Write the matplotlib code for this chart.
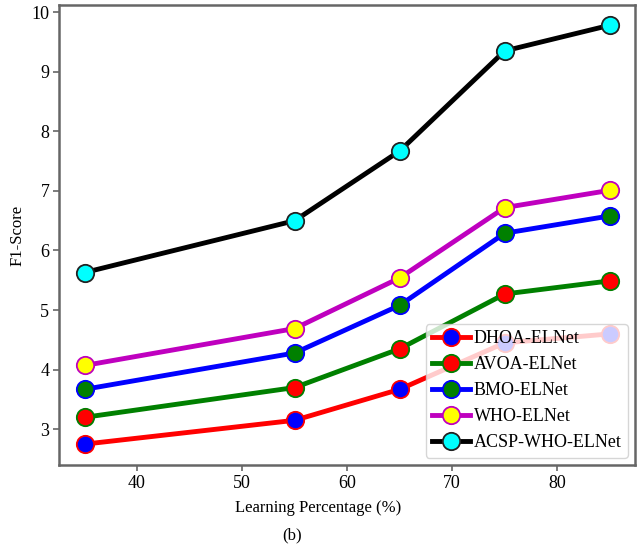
import matplotlib
matplotlib.use("Agg")
import matplotlib.pyplot as plt

# Learning percentage on x, F1-score per model
learning_pct = [35, 55, 65, 75, 85]
dhoa = [2.75, 3.15, 3.67, 4.45, 4.60]
avoa = [3.20, 3.70, 4.35, 5.27, 5.49]
bmo = [3.67, 4.28, 5.08, 6.29, 6.58]
who = [4.07, 4.69, 5.54, 6.72, 7.01]
acsp = [5.63, 6.50, 7.67, 9.35, 9.78]

labels = ["DHOA-ELNet", "AVOA-ELNet", "BMO-ELNet", "WHO-ELNet", "ACSP-WHO-ELNet"]
line_colors = ["red", "green", "blue", "m", "black"]
face_colors = ["blue", "red", "green", "yellow", "cyan"]
x_ticks = [40, 50, 60, 70, 80]
y_ticks = [3, 4, 5, 6, 7, 8, 9, 10]

plt.rcParams["font.family"] = ["Liberation Serif", "DejaVu Serif"]

fig = plt.figure(figsize=(6.38, 5.5), dpi=100)
ax = fig.add_axes([59 / 638, 1 - 465 / 550, (635 - 59) / 638, (465 - 5) / 550])

series = [dhoa, avoa, bmo, who, acsp]
for ys, lab, lc, fc in zip(series, labels, line_colors, face_colors):
    edge = "#222222" if lc == "black" else lc
    ax.plot(learning_pct, ys, color=lc, linewidth=3.5, marker="o", markersize=12.5,
            markerfacecolor=fc, markeredgecolor=edge, markeredgewidth=1.3,
            label=lab)

ax.set_xlim(32.57, 87.4)
ax.set_ylim(2.40, 10.12)
ax.set_xticks(x_ticks)
ax.set_yticks(y_ticks)
ax.tick_params(axis="both", labelsize=13, color="#666666", length=4, width=1.2,
               direction="out", pad=3)
for sp in ax.spines.values():
    sp.set_color("#666666")
    sp.set_linewidth(1.8)

ax.set_ylabel("F1-Score", fontsize=12)
ax.yaxis.set_label_coords(-0.059, 0.5)
ax.set_xlabel("Learning Percentage (%)", fontsize=12)
ax.xaxis.set_label_coords((318 - 59) / (635 - 59), -0.076)

leg = ax.legend(loc="lower right", fontsize=13, handlelength=2.1,
                handletextpad=0.2, borderpad=0.35, labelspacing=0.5,
                framealpha=0.8, edgecolor="#cccccc", fancybox=True,
                borderaxespad=0.4)

fig.text(292 / 638, 1 - 535 / 550, "(b)", fontsize=12, ha="center", va="center")

fig.savefig("out.png", dpi=100)
